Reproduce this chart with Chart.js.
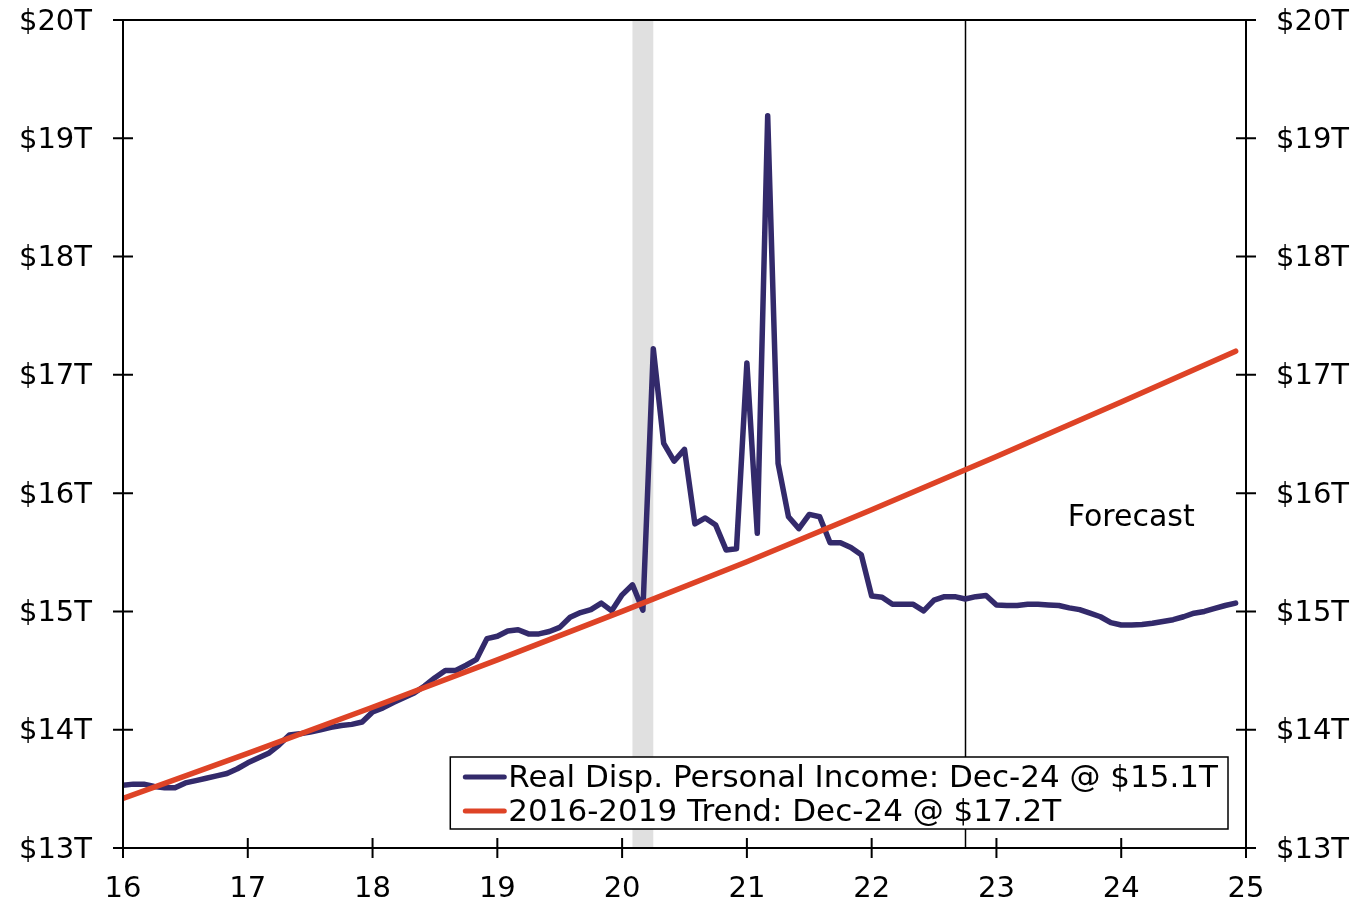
<!DOCTYPE html>
<html>
<head>
<meta charset="utf-8">
<script src="https://cdn.jsdelivr.net/npm/chart.js@4"></script>
<style>
html,body{margin:0;padding:0;background:#fff;}
canvas{display:block;}
</style>
</head>
<body>
<canvas id="c" width="1365" height="903"></canvas>
<script>
// ---- data ----
const seriesStartYear = 16; // Jan 2016, monthly observations
const incomeLabel = 'Real Disp. Personal Income: Dec-24 @ $15.1T';
const incomeValues = [
  // 2016
  13.53, 13.54, 13.54, 13.52, 13.51, 13.51, 13.55, 13.57, 13.59, 13.61, 13.63, 13.67,
  // 2017
  13.72, 13.76, 13.80, 13.87, 13.955, 13.965, 13.98, 14.00, 14.02, 14.035, 14.045, 14.065,
  // 2018
  14.15, 14.185, 14.23, 14.27, 14.31, 14.37, 14.44, 14.50, 14.50, 14.545, 14.595, 14.77,
  // 2019
  14.79, 14.835, 14.845, 14.81, 14.81, 14.83, 14.865, 14.95, 14.99, 15.015, 15.07, 15.005,
  // 2020
  15.14, 15.225, 15.01, 17.22, 16.42, 16.27, 16.37, 15.74, 15.79, 15.73, 15.52, 15.53,
  // 2021
  17.10, 15.66, 19.19, 16.25, 15.80, 15.70, 15.82, 15.80, 15.58, 15.58, 15.54, 15.48,
  // 2022
  15.13, 15.12, 15.06, 15.06, 15.06, 15.005, 15.095, 15.125, 15.125, 15.105, 15.125, 15.135,
  // 2023 (forecast from Oct-22)
  15.055, 15.05, 15.05, 15.06, 15.06, 15.055, 15.05, 15.03, 15.015, 14.985, 14.955, 14.905,
  // 2024
  14.885, 14.885, 14.89, 14.90, 14.915, 14.93, 14.955, 14.985, 15.00, 15.025, 15.05, 15.07
];
const trendLabel = '2016-2019 Trend: Dec-24 @ $17.2T';
const trendYears  = [16, 17, 18, 19, 20, 21, 22, 23, 24, 24.917];
const trendValues = [13.42, 13.80, 14.19, 14.59, 15.00, 15.42, 15.86, 16.31, 16.77, 17.20];
const recessionRange = [20.083, 20.25];
const forecastStart = 22.75;
const forecastLabel = 'Forecast';
const xTickLabels = ['16','17','18','19','20','21','22','23','24','25'];
const yTickLabels = ['$13T','$14T','$15T','$16T','$17T','$18T','$19T','$20T'];

// ---- styling ----
const FONT = 'DejaVu Sans';
const BLUE = '#332a6b';
const RED = '#de4326';
const tickFont = {family: FONT, size: 29};

const incomePoints = incomeValues.map((v, i) => ({x: seriesStartYear + i / 12, y: v}));
const trendPoints = trendValues.map((v, i) => ({x: trendYears[i], y: v}));

const decorPlugin = {
  id: 'decor',
  beforeDatasetsDraw(chart) {
    const {ctx, chartArea: a, scales: {x}} = chart;
    ctx.save();
    const x0 = x.getPixelForValue(recessionRange[0]);
    const x1 = x.getPixelForValue(recessionRange[1]);
    ctx.fillStyle = '#e0e0e0';
    ctx.fillRect(x0, a.top, x1 - x0, a.bottom - a.top);
    const fx = Math.round(x.getPixelForValue(forecastStart)) + 0.5;
    ctx.strokeStyle = '#000';
    ctx.lineWidth = 1.5;
    ctx.beginPath();
    ctx.moveTo(fx, a.top);
    ctx.lineTo(fx, a.bottom);
    ctx.stroke();
    ctx.restore();
  },
  afterDatasetsDraw(chart) {
    const {ctx, chartArea: a, scales: {x, y}} = chart;
    ctx.save();
    // frame
    ctx.strokeStyle = '#000';
    ctx.lineWidth = 2;
    ctx.strokeRect(a.left, a.top, a.right - a.left, a.bottom - a.top);
    // ticks crossing the axes
    const TL = 10;
    ctx.beginPath();
    y.ticks.forEach(t => {
      const py = y.getPixelForValue(t.value);
      ctx.moveTo(a.left - TL, py); ctx.lineTo(a.left + TL, py);
      ctx.moveTo(a.right - TL, py); ctx.lineTo(a.right + TL, py);
    });
    x.ticks.forEach(t => {
      const px = x.getPixelForValue(t.value);
      ctx.moveTo(px, a.bottom - TL); ctx.lineTo(px, a.bottom + TL);
    });
    ctx.stroke();

    // forecast label
    ctx.fillStyle = '#000';
    ctx.font = '30px "' + FONT + '"';
    ctx.textAlign = 'center';
    ctx.textBaseline = 'middle';
    ctx.fillText(forecastLabel, x.getPixelForValue(24.08), y.getPixelForValue(15.79));

    // legend
    const ds = chart.data.datasets;
    ctx.font = '31px "' + FONT + '"';
    const textW = Math.max(...ds.map(d => ctx.measureText(d.label).width));
    const boxRight = a.right - 18, boxBottom = a.bottom - 19;
    const boxW = textW + 58 + 10, boxH = 72;
    const boxLeft = boxRight - boxW, boxTop = boxBottom - boxH;
    ctx.fillStyle = '#fff';
    ctx.fillRect(boxLeft, boxTop, boxW, boxH);
    ctx.lineWidth = 1.5;
    ctx.strokeStyle = '#000';
    ctx.strokeRect(boxLeft, boxTop, boxW, boxH);
    ds.forEach((d, i) => {
      const cy = boxTop + 20 + i * 34;
      ctx.strokeStyle = d.borderColor;
      ctx.lineWidth = 5;
      ctx.lineCap = 'round';
      ctx.beginPath();
      ctx.moveTo(boxLeft + 15, cy);
      ctx.lineTo(boxLeft + 54, cy);
      ctx.stroke();
      ctx.fillStyle = '#000';
      ctx.textAlign = 'left';
      ctx.textBaseline = 'middle';
      ctx.fillText(d.label, boxLeft + 58, cy + 2);
    });
    ctx.restore();
  }
};

const yAxis = (pos, width, pad) => ({
  type: 'linear',
  position: pos,
  min: 13, max: 20,
  grid: {display: false, drawTicks: false},
  border: {display: false},
  ticks: {
    stepSize: 1, color: '#000', font: tickFont, padding: pad, labelOffset: 2,
    callback: (v) => yTickLabels[Math.round(v) - 13]
  },
  afterFit(s) { s.width = width; s.paddingTop = 0; s.paddingBottom = 0; }
});

new Chart(document.getElementById('c'), {
  type: 'line',
  data: {
    datasets: [
      {label: incomeLabel, data: incomePoints, borderColor: BLUE, borderWidth: 5.5,
       pointRadius: 0, tension: 0, borderJoinStyle: 'round', borderCapStyle: 'round', order: 1, yAxisID: 'y'},
      {label: trendLabel, data: trendPoints, borderColor: RED, borderWidth: 5.5,
       pointRadius: 0, tension: 0, borderCapStyle: 'round', order: 0, yAxisID: 'y'}
    ]
  },
  options: {
    responsive: false,
    devicePixelRatio: 1,
    animation: false,
    layout: {padding: {top: 20, right: 0, bottom: 0, left: 0}},
    plugins: {legend: {display: false}, tooltip: {enabled: false}},
    scales: {
      x: {
        type: 'linear', min: 16, max: 25,
        grid: {display: false, drawTicks: false},
        border: {display: false},
        ticks: {
          stepSize: 1, color: '#000', font: tickFont, padding: 24, maxRotation: 0, autoSkip: false,
          callback: (v) => xTickLabels[Math.round(v) - 16]
        },
        afterFit(s) { s.height = 55; s.paddingLeft = 0; s.paddingRight = 0; }
      },
      y: yAxis('left', 123, 31),
      y2: yAxis('right', 119, 30)
    }
  },
  plugins: [decorPlugin]
});
</script>
</body>
</html>
